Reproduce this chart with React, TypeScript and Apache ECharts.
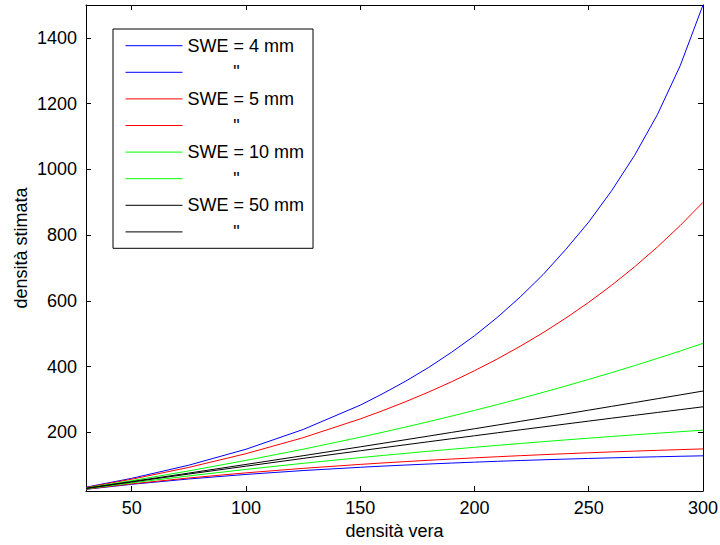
import React, { useEffect, useRef } from "react";
import * as echarts from "echarts";

// densità vera (x)
const xs = [30, 50, 75, 100, 125, 150, 160, 170, 180, 190, 200, 210, 220, 230, 240, 250, 260, 270, 280, 290, 300];

// densità stimata
const blueUpper = [33.6, 60.5, 100.5, 149, 209, 283, 318.5, 356.5, 398, 444, 494, 550, 612, 680, 757, 840, 935, 1042, 1166, 1315, 1500];
const blueLower = [27.1, 42.3, 58.6, 72.4, 84.2, 94.1, 97.7, 101.0, 104.1, 107.0, 109.7, 112.3, 114.7, 116.9, 119.0, 121.0, 122.8, 124.5, 126.1, 127.6, 129];
const redUpper = [32.7, 57.9, 93.8, 135.5, 184.1, 241.2, 266.7, 294.0, 323.1, 354.3, 387.7, 423.6, 462.1, 503.4, 547.9, 595.8, 647.5, 703.4, 763.8, 829.2, 900];
const redLower = [27.7, 43.8, 61.6, 77.2, 90.9, 102.9, 107.3, 111.5, 115.5, 119.2, 122.8, 126.2, 129.4, 132.5, 135.4, 138.2, 140.8, 143.3, 145.6, 147.9, 150];
const greenUpper = [31.3, 53.5, 83.2, 115, 149, 185.6, 200.9, 216.8, 233.0, 249.8, 267.1, 284.8, 303.1, 322.0, 341.4, 361.4, 382, 403.2, 425.1, 447.7, 471];
const greenLower = [28.8, 46.8, 67.9, 87.7, 106.2, 123.5, 130.2, 136.6, 142.9, 149.0, 155.0, 160.8, 166.5, 172.0, 177.4, 182.7, 187.8, 192.8, 197.6, 202.4, 207];
const blackUpper = [30.3, 50.7, 76.5, 102.8, 129.3, 156.3, 167.2, 178.1, 189.1, 200.2, 211.3, 222.5, 233.7, 245.1, 256.4, 267.9, 279.4, 290.9, 302.6, 314.2, 326];
const blackLower = [29.8, 49.4, 73.6, 97.5, 121.1, 144.4, 153.6, 162.8, 171.9, 181.0, 190.0, 199.0, 208.0, 216.9, 225.8, 234.6, 243.4, 252.1, 260.8, 269.4, 278];

const xTicks = [50, 100, 150, 200, 250, 300];
const yTicks = [200, 400, 600, 800, 1000, 1200, 1400];

const seriesNames = [
  "SWE = 4 mm", "SWE = 4 mm (b)",
  "SWE = 5 mm", "SWE = 5 mm (b)",
  "SWE = 10 mm", "SWE = 10 mm (b)",
  "SWE = 50 mm", "SWE = 50 mm (b)",
];
const seriesValues = [blueUpper, blueLower, redUpper, redLower, greenUpper, greenLower, blackUpper, blackLower];
const seriesColors = ["#0000ff", "#0000ff", "#ff0000", "#ff0000", "#00ff00", "#00ff00", "#000000", "#000000"];

const FONT = "'Liberation Sans', Arial, Helvetica, sans-serif";

export default function App() {
  const ref = useRef<HTMLDivElement>(null);
  useEffect(() => {
    if (!ref.current) return;
    const chart = echarts.init(ref.current, null, { renderer: "svg" });
    const axisBase = {
      type: "value" as const,
      splitLine: { show: false },
      axisLine: { show: true, onZero: false, lineStyle: { color: "#000", width: 1 } },
    };
    const plain = (v: number) => String(v);
    chart.setOption({
      animation: false,
      backgroundColor: "#fff",
      grid: { left: 86, right: 17, top: 5, bottom: 54, containLabel: false, outerBoundsMode: "none" },
      legend: {
        orient: "vertical",
        left: 113,
        top: 29,
        itemWidth: 57,
        itemHeight: 14,
        itemGap: 6.6,
        padding: [6.7, 9, 6.4, 12],
        borderColor: "#000",
        borderWidth: 1,
        backgroundColor: "#fff",
        selectedMode: false,
        itemStyle: { opacity: 0 },
        lineStyle: { width: 1 },
        data: seriesNames,
        formatter: (name: string) => (name.endsWith("(b)") ? '{d|"}' : name),
        textStyle: {
          fontFamily: FONT,
          fontSize: 18,
          color: "#000",
          lineHeight: 20,
          rich: {
            d: { width: 98, align: "center", fontFamily: FONT, fontSize: 18, color: "#000", lineHeight: 20 },
          },
        },
      },
      xAxis: [
        {
          ...axisBase,
          position: "bottom",
          min: 30,
          max: 300,
          name: "densità vera",
          nameLocation: "middle",
          nameGap: 31,
          nameMoveOverlap: false,
          nameTextStyle: { fontFamily: FONT, fontSize: 18, color: "#000" },
          axisTick: { show: true, inside: true, length: 5, customValues: xTicks, lineStyle: { color: "#000" } },
          axisLabel: { show: true, customValues: xTicks, formatter: plain, fontFamily: FONT, fontSize: 18, color: "#000", margin: 8 },
        },
        {
          ...axisBase,
          position: "top",
          min: 30,
          max: 300,
          axisTick: { show: true, inside: true, length: 5, customValues: xTicks, lineStyle: { color: "#000" } },
          axisLabel: { show: false },
        },
      ],
      yAxis: [
        {
          ...axisBase,
          position: "left",
          min: 22,
          max: 1500,
          name: "densità stimata",
          nameLocation: "middle",
          nameGap: 56,
          nameMoveOverlap: false,
          nameTextStyle: { fontFamily: FONT, fontSize: 18, color: "#000" },
          axisTick: { show: true, inside: true, length: 5, customValues: yTicks, lineStyle: { color: "#000" } },
          axisLabel: { show: true, customValues: yTicks, formatter: plain, fontFamily: FONT, fontSize: 18, color: "#000", margin: 9 },
        },
        {
          ...axisBase,
          position: "right",
          min: 22,
          max: 1500,
          axisTick: { show: true, inside: true, length: 5, customValues: yTicks, lineStyle: { color: "#000" } },
          axisLabel: { show: false },
        },
      ],
      series: seriesNames.map((name, i) => ({
        name,
        type: "line",
        xAxisIndex: 0,
        yAxisIndex: 0,
        symbol: "none",
        showSymbol: false,
        smooth: false,
        color: seriesColors[i],
        lineStyle: { color: seriesColors[i], width: 1 },
        data: xs.map((x, j) => [x, seriesValues[i][j]]),
      })),
    });
    return () => chart.dispose();
  }, []);
  return <div ref={ref} style={{ position: "absolute", left: 0, top: 0, width: 720, height: 545 }} />;
}
